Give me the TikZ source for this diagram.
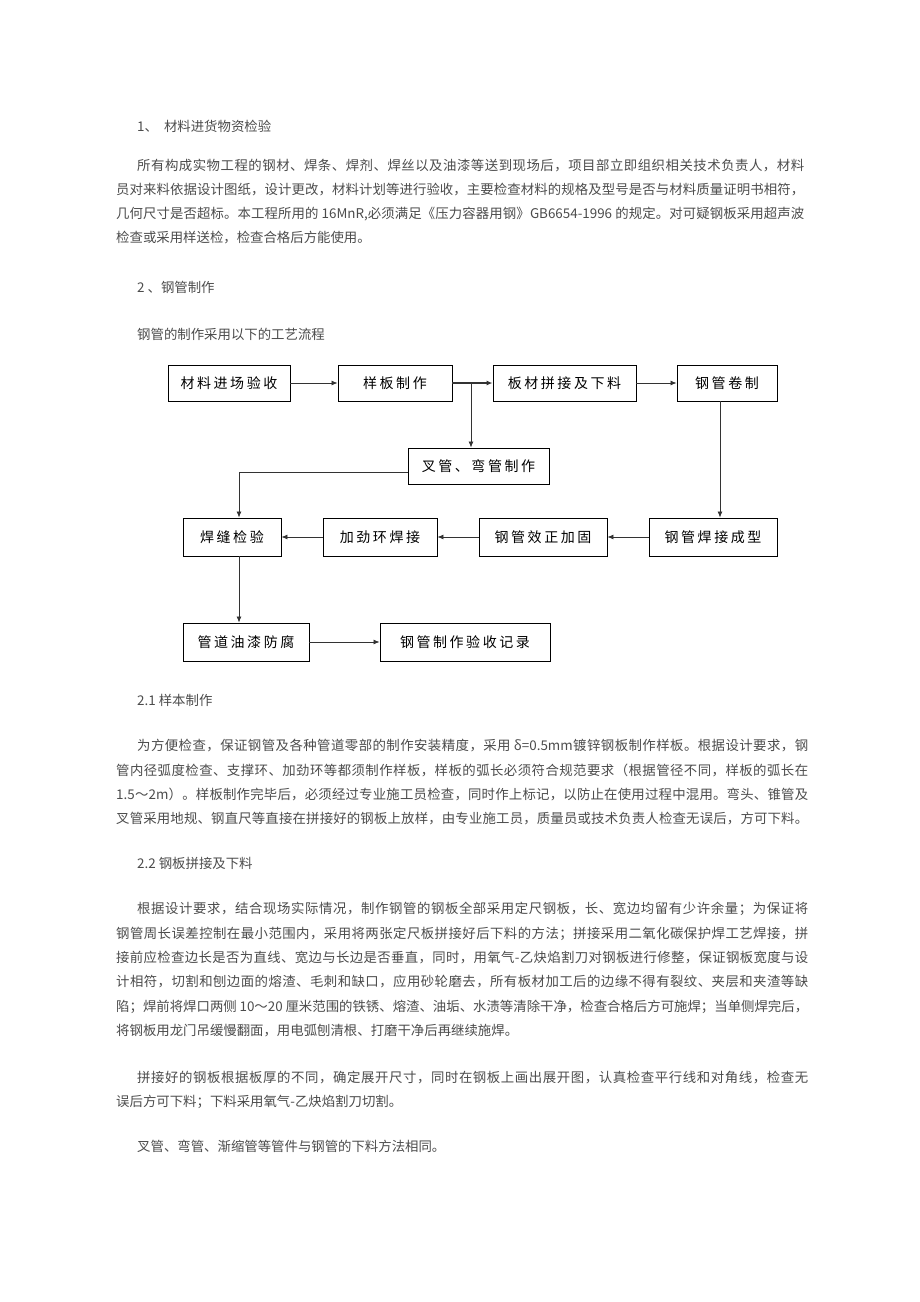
\documentclass[tikz,border=0pt]{standalone}
\usepackage{fontspec}
\usetikzlibrary{arrows.meta,shadows}
\newfontfamily\cjk{Noto Sans CJK SC}
\newfontfamily\bxf[LetterSpace=18]{Noto Sans CJK SC}
\newXeTeXintercharclass\mycjkclass
\makeatletter
\count@="3000
\loop
  \XeTeXcharclass\count@=\mycjkclass
  \ifnum\count@<"9FFF \advance\count@ 1 \repeat
\count@="FF00
\loop
  \XeTeXcharclass\count@=\mycjkclass
  \ifnum\count@<"FFEF \advance\count@ 1 \repeat
\makeatother
\XeTeXinterchartoks\mycjkclass\mycjkclass={\hskip0pt plus 2pt\relax}
\XeTeXinterchartoks\mycjkclass 0={\hskip0pt plus 2pt\relax}
\XeTeXinterchartoks 0\mycjkclass={\hskip0pt plus 2pt\relax}
\definecolor{bodygray}{rgb}{0.3,0.3,0.3}
\definecolor{linegray}{rgb}{0.2,0.2,0.2}
\newcommand\jl[2]{\hbox to #1pt{\XeTeXinterchartokenstate=1 #2}}
\begin{document}
\begin{tikzpicture}[x=1pt,y=-1pt,
  box/.style={draw=black, line width=0.9pt, fill=white, inner sep=0pt,
    minimum height=36pt, font=\bxf\fontsize{14}{16}\selectfont,
    drop shadow={shadow xshift=1pt, shadow yshift=-1pt, opacity=1, fill=gray!80}},
  body/.style={anchor=base west, inner sep=0pt, text=bodygray, font=\cjk\fontsize{13.4}{16}\selectfont},
  arr/.style={draw=linegray, line width=0.8pt, -{Latex[length=6pt,width=5pt]}},
  ln/.style={draw=linegray, line width=0.8pt}]
\useasboundingbox (0,0) rectangle (920,1302);
\fill[white] (0,0) rectangle (920,1302);

% ---------- text above ----------
\node[body] (h1) at (137,131) {1、\hspace{6pt}材料进货物资检验};
\node[body] (p1a) at (137,170) {\jl{667}{所有构成实物工程的钢材、焊条、焊剂、焊丝以及油漆等送到现场后，项目部立即组织相关技术负责人，材料}};
\node[body] (p1b) at (116,194) {\jl{688}{员对来料依据设计图纸，设计更改，材料计划等进行验收，主要检查材料的规格及型号是否与材料质量证明书相符，}};
\node[body] (p1c) at (116,218) {\jl{688}{几何尺寸是否超标。本工程所用的 16MnR,必须满足《压力容器用钢》GB6654-1996 的规定。对可疑钢板采用超声波}};
\node[body] (p1d) at (116,242) {检查或采用样送检，检查合格后方能使用。};
\node[body] (h2) at (137,292) {2 、钢管制作};
\node[body] (p2) at (137,339) {钢管的制作采用以下的工艺流程};

% ---------- flow chart ----------
\node[box, minimum width=122pt] (b1) at (229,383) {材料进场验收};
\node[box, minimum width=114pt] (b2) at (395,383) {样板制作\hspace{24pt}};
\node[box, minimum width=143pt] (b3) at (564.5,383) {板材拼接及下料};
\node[box, minimum width=100pt] (b4) at (727,383) {钢管卷制};
\node[box, minimum width=141pt] (b5) at (478.5,466) {叉管、弯管制作};
\node[box, minimum width=98pt, minimum height=38pt] (b6) at (232,537) {焊缝检验};
\node[box, minimum width=114pt, minimum height=38pt] (b7) at (380,537) {加劲环焊接};
\node[box, minimum width=128pt, minimum height=38pt] (b8) at (543,537) {钢管效正加固};
\node[box, minimum width=128pt, minimum height=38pt] (b9) at (713,537) {钢管焊接成型};
\node[box, minimum width=126pt, minimum height=38pt] (b10) at (246,642) {管道油漆防腐};
\node[box, minimum width=170pt, minimum height=38pt] (b11) at (465,642) {钢管制作验收记录};

\coordinate (j) at (471,383);
\draw[arr] (b1) -- (b2);
\draw[arr, line width=1.6pt] (b2) -- (b3);
\draw[arr] (j) -- (j |- b5.north);
\draw[arr] (b3) -- (b4);
\draw[arr] ([xshift=-7pt]b4.south) -- ([xshift=-7pt]b4.south |- b9.north);
\draw[arr] ([yshift=-6pt]b5.west) -| ([xshift=7pt]b6.north);
\draw[arr] (b9) -- (b8);
\draw[arr] (b8) -- (b7);
\draw[arr] (b7) -- (b6);
\draw[arr] ([xshift=7pt]b6.south) -- ([xshift=7pt]b6.south |- b10.north);
\draw[arr] (b10) -- (b11);

% ---------- text below ----------
\node[body] (h3) at (137,705) {2.1 样本制作};
\node[body] (p3a) at (137,750) {\jl{671}{为方便检查，保证钢管及各种管道零部的制作安装精度，采用 δ=0.5mm镀锌钢板制作样板。根据设计要求，钢}};
\node[body] (p3b) at (116,775) {\jl{692}{管内径弧度检查、支撑环、加劲环等都须制作样板，样板的弧长必须符合规范要求（根据管径不同，样板的弧长在}};
\node[body] (p3c) at (116,799) {\jl{692}{1.5～2m）。样板制作完毕后，必须经过专业施工员检查，同时作上标记，以防止在使用过程中混用。弯头、锥管及}};
\node[body] (p3d) at (116,823) {\jl{692}{叉管采用地规、钢直尺等直接在拼接好的钢板上放样，由专业施工员，质量员或技术负责人检查无误后，方可下料。}};

\node[body] (h4) at (137,868) {2.2 钢板拼接及下料};
\node[body] (p4a) at (137,913) {\jl{671}{根据设计要求，结合现场实际情况，制作钢管的钢板全部采用定尺钢板，长、宽边均留有少许余量；为保证将}};
\node[body] (p4b) at (116,938) {\jl{692}{钢管周长误差控制在最小范围内，采用将两张定尺板拼接好后下料的方法；拼接采用二氧化碳保护焊工艺焊接，拼}};
\node[body] (p4c) at (116,962) {\jl{692}{接前应检查边长是否为直线、宽边与长边是否垂直，同时，用氧气-乙炔焰割刀对钢板进行修整，保证钢板宽度与设}};
\node[body] (p4d) at (116,986) {\jl{692}{计相符，切割和刨边面的熔渣、毛刺和缺口，应用砂轮磨去，所有板材加工后的边缘不得有裂纹、夹层和夹渣等缺}};
\node[body] (p4e) at (116,1011) {\jl{692}{陷；焊前将焊口两侧 10～20 厘米范围的铁锈、熔渣、油垢、水渍等清除干净，检查合格后方可施焊；当单侧焊完后，}};
\node[body] (p4f) at (116,1035) {将钢板用龙门吊缓慢翻面，用电弧刨清根、打磨干净后再继续施焊。};

\node[body] (p5a) at (137,1082) {\jl{671}{拼接好的钢板根据板厚的不同，确定展开尺寸，同时在钢板上画出展开图，认真检查平行线和对角线，检查无}};
\node[body] (p5b) at (116,1106) {误后方可下料；下料采用氧气-乙炔焰割刀切割。};

\node[body] (p6) at (137,1151) {叉管、弯管、渐缩管等管件与钢管的下料方法相同。};
\end{tikzpicture}
\end{document}
